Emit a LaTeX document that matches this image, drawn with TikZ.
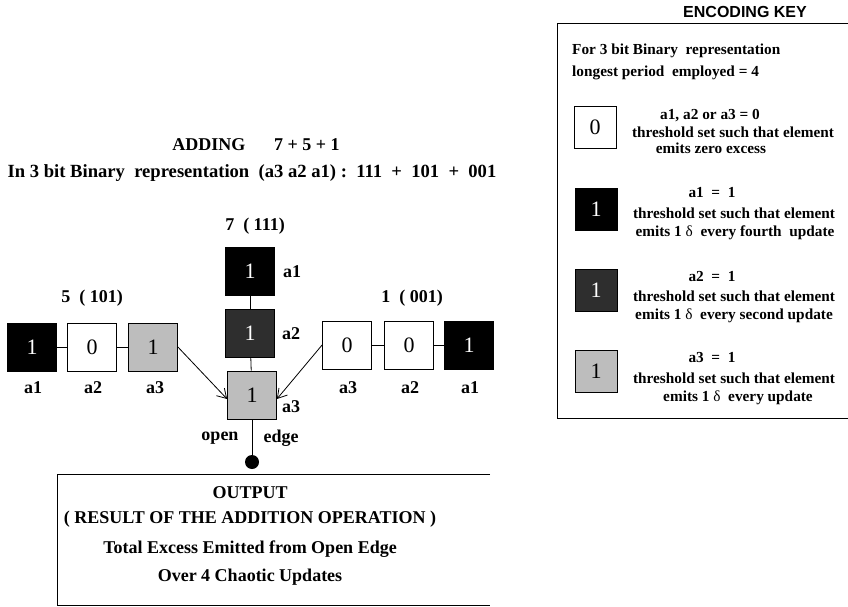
\documentclass[tikz,border=0pt]{standalone}
\usepackage{fontspec}
\setmainfont{Liberation Serif}
\newfontfamily\keysans{Liberation Sans}
\usetikzlibrary{arrows.meta}
\definecolor{lightcell}{gray}{0.74}
\definecolor{darkcell}{gray}{0.18}
\tikzset{
  x=1pt, y=-1pt,
  cell/.style={draw=black, line width=0.8pt, minimum width=49pt, minimum height=48pt, inner sep=0pt,
               font=\fontsize{22}{22}\selectfont},
  zerocell/.style={cell, fill=white},
  onecell/.style={cell, fill=black, text=white},
  midcell/.style={cell, fill=darkcell, text=white},
  lowcell/.style={cell, fill=lightcell, text=black},
  keycell/.style={minimum width=42pt, minimum height=42pt},
  lbl/.style={font=\bfseries\fontsize{18}{18}\selectfont, inner sep=0pt},
  keytxt/.style={font=\bfseries\fontsize{15.3}{15.3}\selectfont, inner sep=0pt},
  wire/.style={line width=0.8pt},
  feed/.style={line width=0.8pt, -{Straight Barb[length=9pt,width=11pt,line width=0.8pt]}},
  frame/.style={line width=1pt}
}
\begin{document}
\begin{tikzpicture}
\useasboundingbox (0,0) rectangle (848,607);

% titles
\node[lbl] (title) at (256,145) {ADDING\hspace{1.6em}7 + 5 + 1};
\node[lbl, font=\bfseries\fontsize{18.6}{18.6}\selectfont] (sub) at (252,173) {In 3 bit Binary\ \ representation\ \ (a3 a2 a1)\ :\ \ 111\ \ +\ \ 101\ \ +\ \ 001};
\node[lbl] (n7) at (255,226) {7\ \ ( 111)};
\node[lbl] (n5) at (92,298) {5\ \ ( 101)};
\node[lbl] (n1) at (412,298) {1\ \ ( 001)};

% centre column
\node[onecell] (c1) at (250,271) {1};
\node[midcell] (c2) at (250,333) {1};
\node[lowcell] (c3) at (252,395) {1};
\node[lbl] (c1l) at (292,272) {a1};
\node[lbl] (c2l) at (291,334) {a2};
\node[lbl] (c3l) at (291,407) {a3};
\draw[wire] (c1) -- (c2);
\draw[wire] (c2) -- (c3);

% left row
\node[onecell] (l1) at (32,347) {1};
\node[zerocell] (l2) at (92,347) {0};
\node[lowcell] (l3) at (153,347) {1};
\node[lbl] (l1l) at (33,388) {a1};
\node[lbl] (l2l) at (93,388) {a2};
\node[lbl] (l3l) at (155,388) {a3};
\draw[wire] (l1) -- (l2);
\draw[wire] (l2) -- (l3);

% right row
\node[zerocell] (r3) at (347,345) {0};
\node[zerocell] (r2) at (409,345) {0};
\node[onecell] (r1) at (469,345) {1};
\node[lbl] (r3l) at (348,388) {a3};
\node[lbl] (r2l) at (410,388) {a2};
\node[lbl] (r1l) at (470,388) {a1};
\draw[wire] (r3) -- (r2);
\draw[wire] (r2) -- (r1);

% feeds into the centre a3
\draw[feed] (l3.east) -- ([yshift=-4pt]c3.west);
\draw[feed] (r3.west) -- ([yshift=-4pt]c3.east);

% open edge
\node[circle, fill=black, minimum size=14pt, inner sep=0pt] (dot) at (252,462) {};
\draw[wire] (c3) -- (dot);
\node[lbl] (open) at (220,438) {open};
\node[lbl] (edge) at (281,438) {edge};

% output box
\coordinate (otl) at (57,474);
\coordinate (otr) at (490,474);
\coordinate (obl) at (57,605);
\coordinate (obr) at (490,605);
\draw[frame] (otr) -- (otl) -- (obl) -- (obr);
\node[lbl] (out1) at (250,493) {OUTPUT};
\node[lbl] (out2) at (250,519) {( RESULT OF THE ADDITION OPERATION )};
\node[lbl] (out3) at (250,549) {Total Excess Emitted from Open Edge};
\node[lbl] (out4) at (250,577) {Over 4 Chaotic Updates};

% encoding key
\node[font=\keysans\bfseries\fontsize{16}{16}\selectfont, inner sep=0pt] (keyt) at (745,12) {ENCODING KEY};
\coordinate (ktl) at (557,24);
\coordinate (ktr) at (848,24);
\coordinate (kbl) at (557,418);
\coordinate (kbr) at (848,418);
\draw[frame] (ktr) -- (ktl) -- (kbl) -- (kbr);
\node[keytxt, anchor=west] (k0a) at (572,51) {For 3 bit Binary\ \ representation};
\node[keytxt, anchor=west] (k0b) at (572,73) {longest period\ \ employed = 4};

\node[zerocell, keycell] (kz) at (595,127) {0};
\node[keytxt] (kza) at (710,116) {a1, a2 or a3 = 0};
\node[keytxt] (kzb) at (733,132) {threshold set such that element};
\node[keytxt] (kzc) at (711,148) {emits zero excess};

\node[onecell, keycell] (ko) at (596,209) {1};
\node[keytxt] (koa) at (712,193) {a1\ \ =\ \ 1};
\node[keytxt] (kob) at (734,213) {threshold set such that element};
\node[keytxt] (koc) at (735,233) {emits 1 \textmd{δ}\ \ every fourth\ \ update};

\node[midcell, keycell] (km) at (596,290) {1};
\node[keytxt] (kma) at (712,277) {a2\ \ =\ \ 1};
\node[keytxt] (kmb) at (734,296) {threshold set such that element};
\node[keytxt] (kmc) at (734,316) {emits 1 \textmd{δ}\ \ every second update};

\node[lowcell, keycell] (kl) at (596,371) {1};
\node[keytxt] (kla) at (712,358) {a3\ \ =\ \ 1};
\node[keytxt] (klb) at (734,378) {threshold set such that element};
\node[keytxt] (klc) at (738,398) {emits 1 \textmd{δ}\ \ every update};
\end{tikzpicture}
\end{document}
